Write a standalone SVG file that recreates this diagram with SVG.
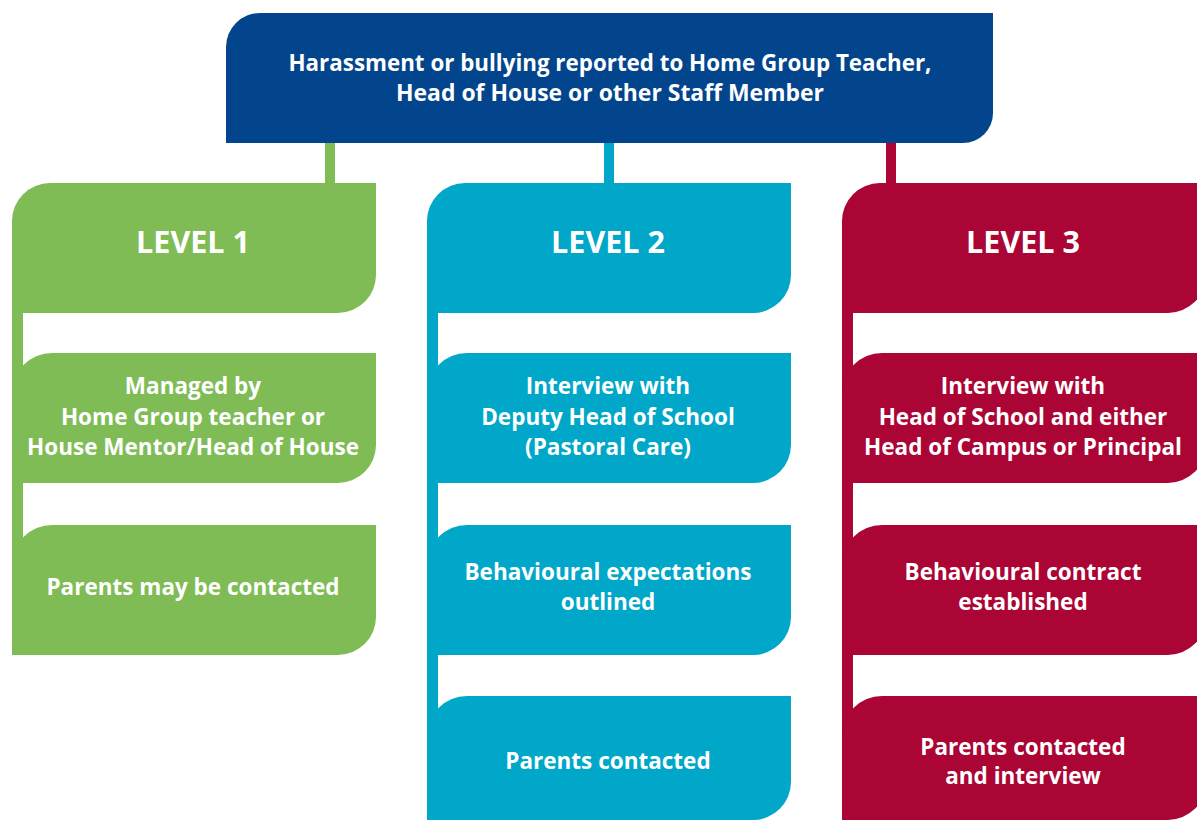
<svg xmlns="http://www.w3.org/2000/svg" width="1197" height="821" viewBox="0 0 1197 821">
<style>
.t{font-family:"Open Sans","Noto Sans","Liberation Sans",sans-serif;font-weight:700;fill:#fff;text-anchor:middle}
.b{font-size:22.5px}
.h{font-size:30.5px}
.top{font-size:24px}
.g{fill:#80BC56}.c{fill:#00A7C8}.r{fill:#AA0535}.n{fill:#03458D}
</style>
<rect width="1197" height="821" fill="#fff"/>
<g id="connectors">
<rect class="g" x="325" y="140" width="10" height="46"/>
<rect class="c" x="604" y="140" width="10" height="46"/>
<rect class="r" x="886" y="140" width="10" height="46"/>
<rect class="g" x="12" y="300" width="11" height="300"/>
<rect class="c" x="427" y="300" width="11" height="470"/>
<rect class="r" x="842" y="300" width="11" height="470"/>
</g>
<g id="top">
<path class="n" d="M226,47 A34,34 0 0 1 260,13 H993 V113 A30,30 0 0 1 963,143 H226 Z"/>
<text class="t top" x="610" y="71" textLength="643" lengthAdjust="spacingAndGlyphs">Harassment or bullying reported to Home Group Teacher,</text>
<text class="t top" x="610" y="101" textLength="428" lengthAdjust="spacingAndGlyphs">Head of House or other Staff Member</text>
</g>
<g id="level1">
<path class="g" d="M12,221 A38,38 0 0 1 50,183 H376 V275 A38,38 0 0 1 338,313 H12 Z"/>
<text class="t h" x="193" y="253">LEVEL 1</text>
</g>
<g id="level1-managed">
<path class="g" d="M12,393 A40,40 0 0 1 52,353 H376 V445 A38,38 0 0 1 338,483 H12 Z"/>
<text class="t b" x="193" y="394">Managed by</text>
<text class="t b" x="193" y="425">Home Group teacher or</text>
<text class="t b" x="193" y="455">House Mentor/Head of House</text>
</g>
<g id="level1-parents">
<path class="g" d="M12,565 A40,40 0 0 1 52,525 H376 V617 A38,38 0 0 1 338,655 H12 Z"/>
<text class="t b" x="193" y="595">Parents may be contacted</text>
</g>
<g id="level2">
<path class="c" d="M427,221 A38,38 0 0 1 465,183 H791 V275 A38,38 0 0 1 753,313 H427 Z"/>
<text class="t h" x="608" y="253">LEVEL 2</text>
</g>
<g id="level2-interview">
<path class="c" d="M427,393 A40,40 0 0 1 467,353 H791 V445 A38,38 0 0 1 753,483 H427 Z"/>
<text class="t b" x="608" y="394">Interview with</text>
<text class="t b" x="608" y="425">Deputy Head of School</text>
<text class="t b" x="608" y="455">(Pastoral Care)</text>
</g>
<g id="level2-behaviour">
<path class="c" d="M427,565 A40,40 0 0 1 467,525 H791 V617 A38,38 0 0 1 753,655 H427 Z"/>
<text class="t b" x="608" y="580">Behavioural expectations</text>
<text class="t b" x="608" y="610">outlined</text>
</g>
<g id="level2-parents">
<path class="c" d="M427,736 A40,40 0 0 1 467,696 H791 V782 A38,38 0 0 1 753,820 H427 Z"/>
<text class="t b" x="608" y="769">Parents contacted</text>
</g>
<g id="level3">
<path class="r" d="M842,221 A38,38 0 0 1 880,183 H1206 V275 A38,38 0 0 1 1168,313 H842 Z"/>
<text class="t h" x="1023" y="253">LEVEL 3</text>
</g>
<g id="level3-interview">
<path class="r" d="M842,393 A40,40 0 0 1 882,353 H1206 V445 A38,38 0 0 1 1168,483 H842 Z"/>
<text class="t b" x="1023" y="394">Interview with</text>
<text class="t b" x="1023" y="425">Head of School and either</text>
<text class="t b" x="1023" y="455">Head of Campus or Principal</text>
</g>
<g id="level3-contract">
<path class="r" d="M842,565 A40,40 0 0 1 882,525 H1206 V617 A38,38 0 0 1 1168,655 H842 Z"/>
<text class="t b" x="1023" y="580">Behavioural contract</text>
<text class="t b" x="1023" y="610">established</text>
</g>
<g id="level3-parents">
<path class="r" d="M842,736 A40,40 0 0 1 882,696 H1206 V782 A38,38 0 0 1 1168,820 H842 Z"/>
<text class="t b" x="1023" y="755">Parents contacted</text>
<text class="t b" x="1023" y="784">and interview</text>
</g>
</svg>
